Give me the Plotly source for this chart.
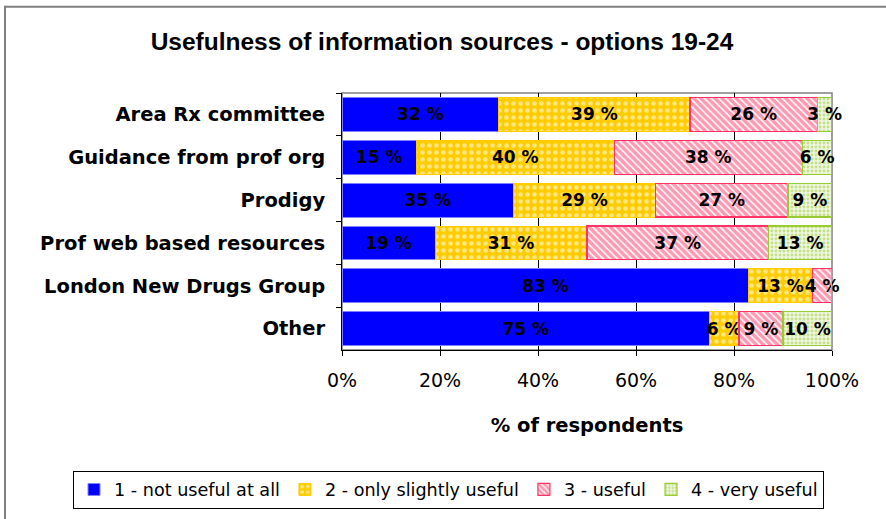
import plotly.graph_objects as go

categories = ["Area Rx committee", "Guidance from prof org", "Prodigy",
              "Prof web based resources", "London New Drugs Group", "Other"]
series_names = ["1 - not useful at all", "2 - only slightly useful",
                "3 - useful", "4 - very useful"]
not_useful = [32, 15, 35, 19, 83, 75]
slightly_useful = [39, 40, 29, 31, 13, 6]
useful = [26, 38, 27, 37, 4, 9]
very_useful = [3, 6, 9, 13, 0, 10]
x_ticks = [0, 20, 40, 60, 80, 100]
x_tick_labels = ["0%", "20%", "40%", "60%", "80%", "100%"]

series_values = [not_useful, slightly_useful, useful, very_useful]

styles = [
    dict(color="#0000FF", line=dict(color="#8080FF", width=1)),
    dict(color="#FFCC00", line=dict(color="#FFCC00", width=1),
         pattern=dict(shape=".", fgcolor="white", bgcolor="#FFCC00", size=7, solidity=0.35)),
    dict(color="#FF3366", line=dict(color="#FF3366", width=1.2),
         pattern=dict(shape="\\", fgcolor="#FF3366", bgcolor="white", size=5, solidity=0.7)),
    dict(color="#99CC33", line=dict(color="#99CC33", width=1.2),
         pattern=dict(shape=".", fgcolor="#99CC33", bgcolor="#EEF6E0", size=4, solidity=0.4)),
]

fig = go.Figure()
for name, vals, st in zip(series_names, series_values, styles):
    fig.add_trace(go.Bar(
        y=categories, x=vals, name=name, orientation="h",
        marker=st,
        text=[f"{v} %" if v > 0 else "" for v in vals],
        textposition="inside", insidetextanchor="middle", textangle=0,
        constraintext="none", cliponaxis=False,
        textfont=dict(family="DejaVu Sans", size=17, color="black", weight="bold"),
    ))

BASE = "DejaVu Sans"
PL, PW, PT, PH = 342, 490, 93.5, 258   # plot area in pixels


def px_x(p):
    return (p - PL) / PW


def px_y(p):
    return (PT + PH - p) / PH


fig.update_layout(
    width=886, height=519,
    margin=dict(l=342, r=54, t=93, b=168),
    paper_bgcolor="white", plot_bgcolor="white",
    barmode="stack", barnorm="percent", bargap=0.21,
    title=dict(text="Usefulness of information sources - options 19-24",
               font=dict(family="Liberation Sans, Arial", size=24.5, color="black", weight="bold"),
               x=442 / 886, xanchor="center", xref="container",
               y=1 - 41 / 519, yanchor="middle", yref="container"),
    xaxis=dict(range=[0, 100.001], tickvals=x_ticks, ticktext=x_tick_labels,
               showgrid=True, gridcolor="black", gridwidth=1,
               showline=True, linecolor="black", linewidth=1,
               ticks="outside", ticklen=5, tickcolor="black",
               tickfont=dict(family=BASE, size=19, color="black"),
               ticklabelstandoff=8, zeroline=False,
               title=dict(text="% of respondents", standoff=28,
                          font=dict(family=BASE, size=19.5, color="black", weight="bold"))),
    yaxis=dict(autorange="reversed", showline=True, linecolor="black", linewidth=1,
               ticks="outside", ticklen=5, tickcolor="black", tickson="boundaries",
               tickfont=dict(family=BASE, size=19.5, color="black", weight="bold"),
               ticklabelstandoff=12, showgrid=False),
    legend=dict(orientation="h", xref="paper", yref="paper",
                x=px_x(73), xanchor="left", y=px_y(471), yanchor="top",
                bordercolor="black", borderwidth=1, bgcolor="white",
                font=dict(family=BASE, size=17.6, color="black"),
                itemwidth=30, traceorder="normal"),
    showlegend=True,
)

# plot-area frame (grey) and outer chart border (grey, left & top)
fig.add_shape(type="rect", xref="paper", yref="paper", x0=0, x1=1, y0=0, y1=1,
              line=dict(color="#808080", width=1.5), layer="below")
fig.add_shape(type="line", xref="paper", yref="paper",
              x0=px_x(5), x1=px_x(5), y0=px_y(6), y1=px_y(530),
              line=dict(color="#808080", width=2))
fig.add_shape(type="line", xref="paper", yref="paper",
              x0=px_x(5), x1=px_x(900), y0=px_y(7), y1=px_y(7),
              line=dict(color="#808080", width=2))

fig.write_html("out.html", config={"displayModeBar": False},
               post_script="document.body.style.margin='0';")
